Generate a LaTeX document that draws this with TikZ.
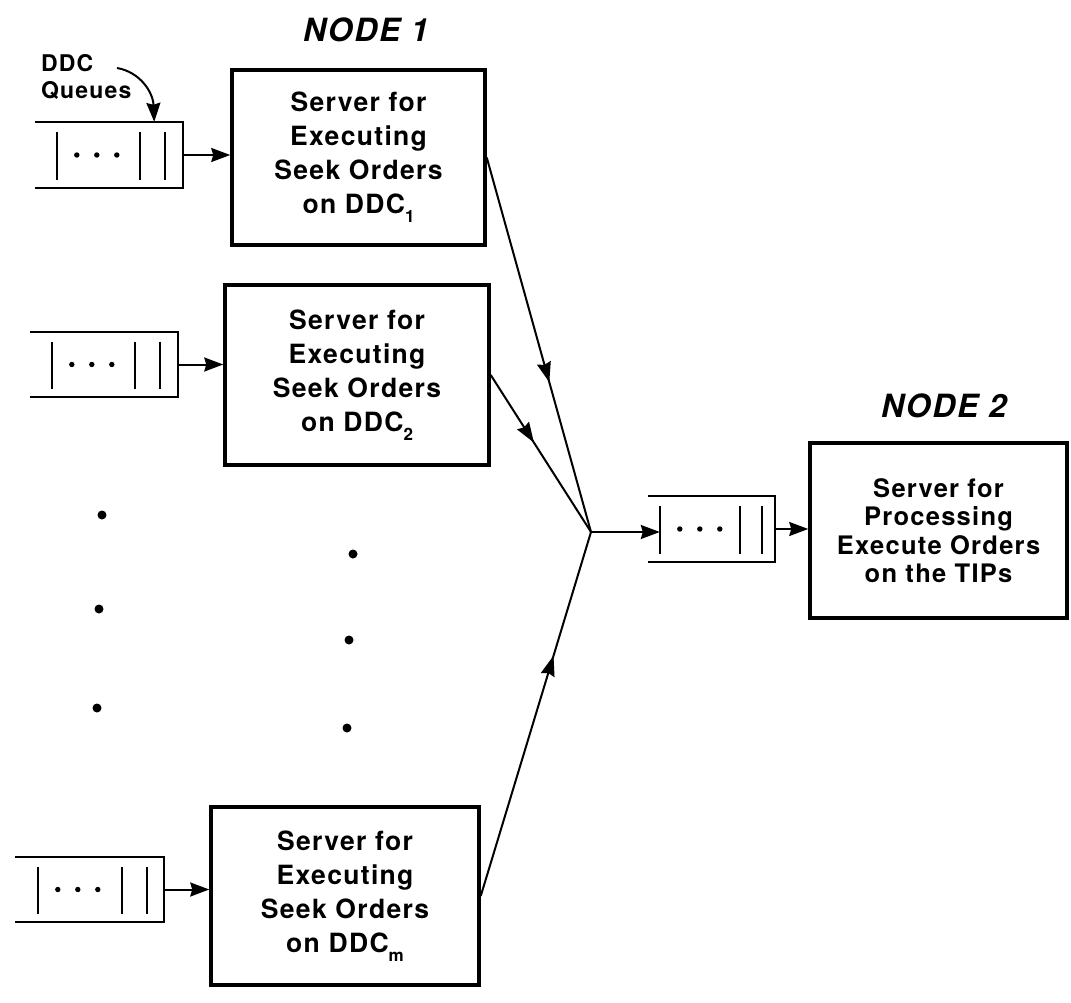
\documentclass[tikz,border=0pt]{standalone}
\usepackage{fontspec}
\setmainfont{TeX Gyre Heros}[LetterSpace=5]
\usetikzlibrary{arrows.meta,calc,decorations.markings}
\tikzset{
  tip/.tip={Stealth[length=20pt,width=14pt,inset=2pt]},
  >={Stealth[length=19pt,width=14pt,inset=2pt]},
  boxst/.style={draw, line width=3.5pt, rectangle, inner sep=0pt, align=center,
    font=\bfseries\fontsize{26.5}{34}\selectfont},
  qnode/.style={rectangle, inner sep=0pt},
  qline/.style={line width=2.4pt},
  qbar/.style={line width=2pt},
  conn/.style={line width=2pt},
  midarrow/.style={postaction={decorate},
    decoration={markings, mark=at position #1 with {\arrow{tip}}}},
  titlest/.style={font=\bfseries\itshape\fontsize{32}{36}\selectfont, inner sep=0pt},
  labst/.style={font=\bfseries\fontsize{23}{27}\selectfont, inner sep=0pt, align=left},
}
% #1 queue node, #2 left bar offset, #3 #4 right bar offsets from east side
\newcommand\qdraw[4]{%
  \draw[qline] (#1.north west) -- (#1.north east) -- (#1.south east) -- (#1.south west);
  \draw[qbar] ($(#1.north west)+(#2,10)$) -- ($(#1.south west)+(#2,-8)$);
  \draw[qbar] ($(#1.north east)+(-#3,10)$) -- ($(#1.south east)+(-#3,-8)$);
  \draw[qbar] ($(#1.north east)+(-#4,10)$) -- ($(#1.south east)+(-#4,-8)$);
  \foreach \k in {1,2,3} \fill ($(#1.west)+(#2+20*\k,0)$) circle[radius=2.7pt];
}
\newcommand\lowsub[1]{\raisebox{-0.35em}{\fontsize{17}{17}\selectfont #1}}
\begin{document}
\begin{tikzpicture}[x=1pt,y=-1pt]
\useasboundingbox (0,0) rectangle (1071,1003);

% titles
\node[titlest] (n1) at (366,30) {NODE 1};
\node[titlest] (n2) at (944,406) {NODE 2};
\node[labst, anchor=west] (ddc) at (41,77) {DDC\\Queues};

% server boxes
\node[boxst, minimum width=253pt, minimum height=175pt] (b1) at (358.5,157.5)
  {Server for\\Executing\\Seek Orders\\on DDC\lowsub{1}};
\node[boxst, minimum width=264pt, minimum height=180pt] (b2) at (357,375)
  {Server for\\Executing\\Seek Orders\\on DDC\lowsub{2}};
\node[boxst, minimum width=268pt, minimum height=178pt] (bm) at (345,896)
  {Server for\\Executing\\Seek Orders\\on DDC\lowsub{m}};
\node[boxst, minimum width=257pt, minimum height=175pt,
  font=\bfseries\fontsize{25.5}{28.5}\selectfont] (bn) at (938.5,530.5)
  {Server for\\Processing\\Execute Orders\\on the TIPs};

% queues
\node[qnode, minimum width=148pt, minimum height=66pt] (q1) at (109,155) {};
\node[qnode, minimum width=148pt, minimum height=65pt] (q2) at (104,364.5) {};
\node[qnode, minimum width=149pt, minimum height=65pt] (qm) at (89.5,889.5) {};
\node[qnode, minimum width=127pt, minimum height=66pt] (qn) at (711.5,529) {};
\qdraw{q1}{22}{43}{18}
\qdraw{q2}{22}{43}{18}
\qdraw{qm}{23}{42}{17}
\qdraw{qn}{12}{35}{13}

% queue -> server arrows
\draw[conn,->] (q1.east) -- (q1.east -| b1.west);
\draw[conn,->] (q2.east) -- (q2.east -| b2.west);
\draw[conn,->] (qm.east) -- (qm.east -| bm.west);
\draw[conn,->] (qn.east) -- (qn.east -| bn.west);

% DDC queues pointer
\coordinate (ddcs) at (117,68);
\coordinate (q1in) at ($(q1.north east)+(-29,0)$);
\draw[conn,->] (ddcs) .. controls (140,72) and (153,92) .. (q1in);

% merging
\coordinate (j) at (591,532);
\coordinate (qnbar) at ($(qn.west)+(12,0)$);
\draw[conn, midarrow=0.6] (b1.east) -- (j);
\draw[conn, midarrow=0.43] (b2.east) -- (j);
\draw[conn, midarrow=0.66] (bm.east) -- (j);
\draw[conn,->] (j) -- (j -| qnbar);

% vertical ellipsis dots
\foreach \p in {(102,515),(99,609),(97,708),(353,554),(349,640),(347,728)}
  \fill \p circle[radius=4.5pt];
\end{tikzpicture}
\end{document}
